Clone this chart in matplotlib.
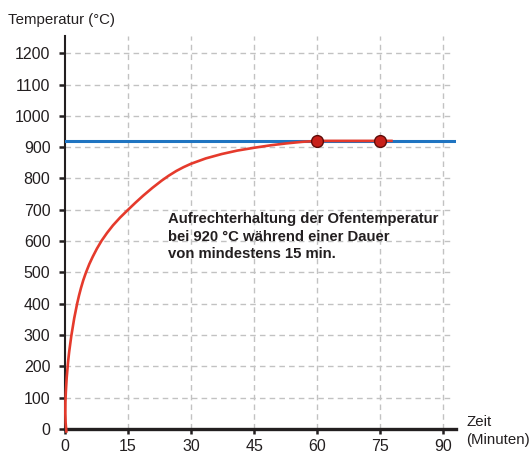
"""
Ofentemperatur ueber Zeit
"""
# import packages
import matplotlib
matplotlib.use('Agg')
import matplotlib.pyplot as plt


# ###
# 1.Declare data
# ###
# red heating curve
TIME_LIST = [0.35, 0.15, 0.08, 0.1, 0.2, 0.4, 0.75, 1.0, 1.5, 2.2, 2.9, 3.35, 3.8,
             4.35, 5.0, 5.8, 6.6, 7.6, 8.7, 10.0, 11.4, 13.1, 15.0, 16.8, 18.6,
             20.8, 23.0, 24.7, 26.5, 28.2, 30.0, 33.5, 37.3, 41.0, 45.0, 49.0,
             52.7, 56.5, 60.0, 75.0, 78.0]
TEMP_LIST = [-12, 20, 50, 86, 118, 163, 217, 247, 297, 354, 401, 427, 450,
             475, 500, 527, 550, 576, 601, 626, 650, 675, 700, 723, 745,
             770, 793, 809, 824, 836, 847, 864, 878, 889, 898, 906,
             912, 917, 920, 920, 920]

# holding phase
HOLD_TEMP  = 920
HOLD_TIME  = [60, 75]
HOLD_VALUE = [920, 920]

# ticks
X_TICKS = [0, 15, 30, 45, 60, 75, 90]
Y_TICKS = [0, 100, 200, 300, 400, 500, 600, 700, 800, 900, 1000, 1100, 1200]

# texts
Y_LABEL   = 'Temperatur (°C)'
X_LABEL   = 'Zeit\n(Minuten)'
NOTE_TEXT = 'Aufrechterhaltung der Ofentemperatur\nbei 920 °C während einer Dauer\nvon mindestens 15 min.'

# figure variables
FONT_LIST   = ['Liberation Sans', 'DejaVu Sans']
COLOR_RED   = '#e53a2c'
COLOR_BLUE  = '#1f74c1'
COLOR_GRID  = '#c2c2c2'
COLOR_TEXT  = '#231f20'
PLOT_X_SIZE = 5.31
PLOT_Y_SIZE = 4.57
PLOT_DPI    = 100


# ###
# 2.figure function
# ###
def draw_figure(image_path):
    plt.rcParams['font.family'] = FONT_LIST
    fig = plt.figure(figsize=(PLOT_X_SIZE, PLOT_Y_SIZE), dpi=PLOT_DPI, facecolor='w')
    ax = fig.add_axes([0.1224, 0.0613, 0.736, 0.86])

    x_max = 93.0
    y_max = 1255.0
    ax.set_xlim(0, x_max)
    ax.set_ylim(0, y_max)

    # dashed grid
    ax.hlines(Y_TICKS[1:], 0, 91.7, colors=COLOR_GRID, linestyles=(0, (4, 3)), linewidth=1.0, zorder=1)
    ax.vlines(X_TICKS[1:], 0, y_max, colors=COLOR_GRID, linestyles=(0, (4, 3)), linewidth=1.0, zorder=1)

    # lines
    ax.axhline(HOLD_TEMP, color=COLOR_BLUE, linewidth=2.2, zorder=3)
    ax.plot(TIME_LIST, TEMP_LIST, color=COLOR_RED, linewidth=1.9, zorder=4,
            clip_on=False, solid_capstyle='butt', solid_joinstyle='round')
    ax.plot(HOLD_TIME, HOLD_VALUE, linestyle='none', marker='o', markersize=8.5,
            markerfacecolor='#c8201a', markeredgecolor='#5e0b08', markeredgewidth=1.0, zorder=5)

    # spines
    for side in ['top', 'right']:
        ax.spines[side].set_visible(False)
    ax.spines['left'].set_linewidth(1.5)
    ax.spines['bottom'].set_linewidth(2.4)
    ax.spines['left'].set_color(COLOR_TEXT)
    ax.spines['bottom'].set_color(COLOR_TEXT)

    # ticks
    ax.set_xticks(X_TICKS)
    ax.set_yticks(Y_TICKS)
    ax.set_xticklabels([str(i) for i in X_TICKS])
    ax.set_yticklabels([str(i) for i in Y_TICKS])
    ax.tick_params(axis='y', direction='out', length=4.5, width=1.8, pad=6,
                   labelsize=11.5, colors=COLOR_TEXT)
    ax.tick_params(axis='x', direction='out', length=3.5, width=1.8, pad=4,
                   labelsize=11.5, colors=COLOR_TEXT)

    # texts
    fig.text(8 / 531, 1 - 20 / 457, Y_LABEL, ha='left', va='center', fontsize=10.8, color=COLOR_TEXT)
    fig.text(466 / 531, 1 - 431 / 457, X_LABEL, ha='left', va='center', fontsize=10.8,
             color=COLOR_TEXT, linespacing=1.3)
    ax.text(24.5, 614, NOTE_TEXT, ha='left', va='center', fontsize=10.7, fontweight='bold',
            color=COLOR_TEXT, linespacing=1.33, zorder=6)

    plt.savefig(image_path, dpi=PLOT_DPI, facecolor='w')
    plt.close(fig)


# ###
# 3.main function
# ###
def main_function():
    draw_figure('out.png')


if __name__ == '__main__':
    main_function()
